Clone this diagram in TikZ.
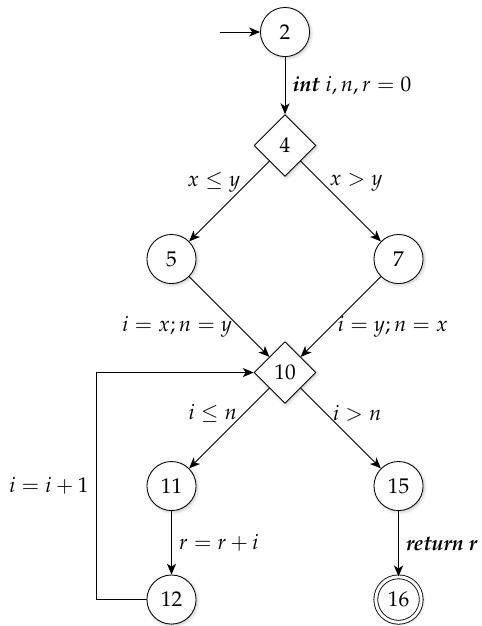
\documentclass[tikz,border=0pt]{standalone}
\usepackage[T1]{fontenc}
\usepackage{mathpazo}
\usepackage{tikz}
\usetikzlibrary{arrows.meta,shapes.geometric,shadows.blur}

\begin{document}
\begin{tikzpicture}[
  x=1.873cm, y=1.873cm,
  >={Stealth[length=1.8mm,width=1.5mm,inset=0.5mm]},
  line cap=round,
  line join=round,
  softshadow/.style={blur shadow={shadow xshift=0.6pt, shadow yshift=-0.6pt,
      shadow blur radius=1.5pt, shadow opacity=25}},
  cfgnode/.style={circle, draw, fill=white, minimum size=0.81cm, inner sep=0pt, softshadow},
  cfgtest/.style={diamond, draw, fill=white, minimum size=1.02cm, inner sep=0pt, softshadow},
  cfgexit/.style={cfgnode, double, double distance=1.4pt, minimum size=0.75cm}
]
  \useasboundingbox (-2.511,0.282) rectangle (1.727,-5.233);

  % blocks of the control flow graph, one row per level
  \node[cfgnode] (n2)  at ( 0, 0) {2};
  \node[cfgtest] (n4)  at ( 0,-1) {4};
  \node[cfgnode] (n5)  at (-1,-2) {5};
  \node[cfgnode] (n7)  at ( 1,-2) {7};
  \node[cfgtest] (n10) at ( 0,-3) {10};
  \node[cfgnode] (n11) at (-1,-4) {11};
  \node[cfgnode] (n15) at ( 1,-4) {15};
  \node[cfgnode] (n12) at (-1,-5) {12};
  \node[cfgexit] (n16) at ( 1,-5) {16};

  \coordinate (entry) at (-0.57,0);
  \coordinate (back)  at (-1.665,-5);

  % edges with their statements and guards
  \draw[->] (entry) -- (n2);
  \draw[->] (n2) -- node[right] {$\textbf{\textit{int}}\ i,n,r=0$} (n4);
  \draw[->] (n4) -- node[pos=0.27, left]  {$x\leq y$} (n5);
  \draw[->] (n4) -- node[pos=0.27, right] {$x>y$} (n7);
  \draw[->] (n5) -- node[pos=0.63, left]  {$i=x;n=y$} (n10);
  \draw[->] (n7) -- node[pos=0.63, right] {$i=y;n=x$} (n10);
  \draw[->] (n10) -- node[pos=0.31, left]  {$i\leq n$} (n11);
  \draw[->] (n10) -- node[pos=0.31, right] {$i>n$} (n15);
  \draw[->] (n11) -- node[right] {$r=r+i$} (n12);
  \draw[->] (n15) -- node[right] {\textbf{\textit{return r}}} (n16);
  \draw[->] (n12.west) -- (back) |- node[pos=0.25, left] {$i=i+1$} (n10.west);
\end{tikzpicture}
\end{document}
